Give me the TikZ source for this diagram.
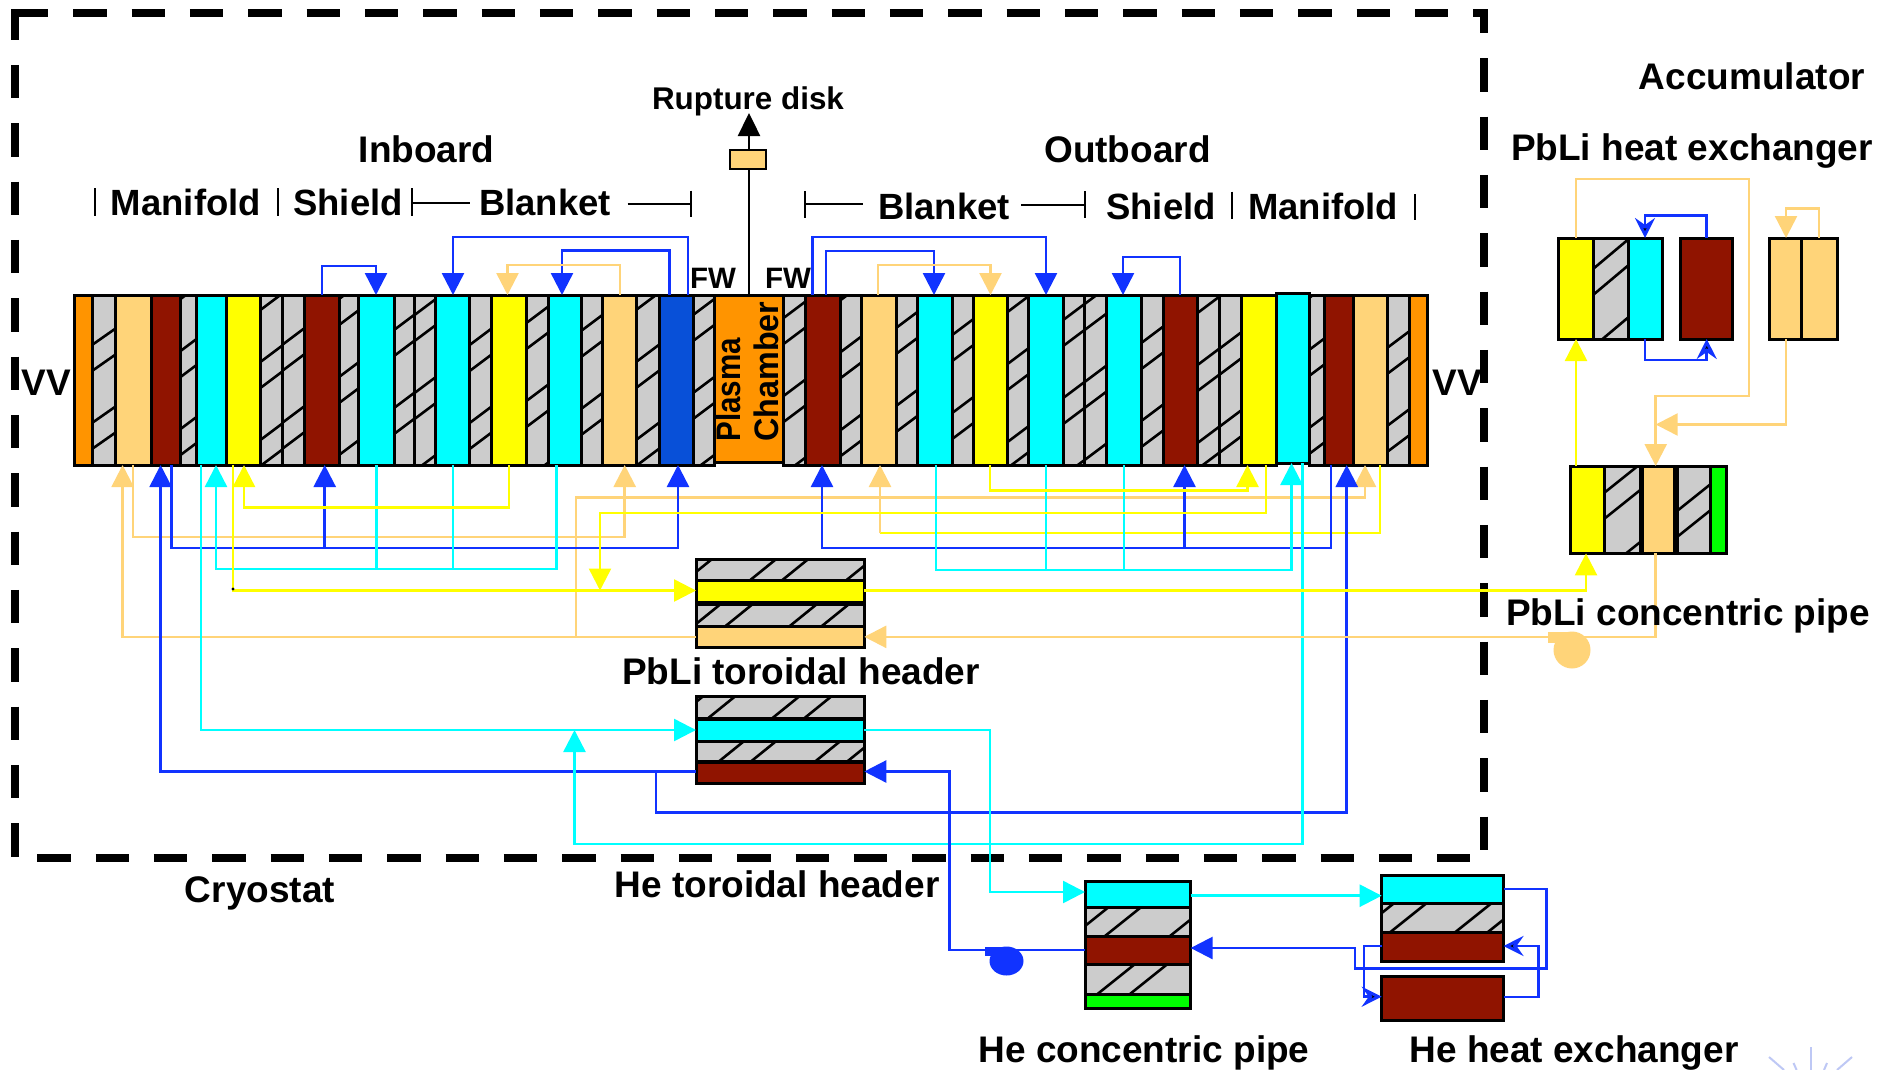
\documentclass[tikz,border=0pt]{standalone}
\usepackage{fontspec}
\setmainfont{Liberation Sans}
\usetikzlibrary{arrows.meta,shapes.geometric}
\definecolor{cBlue}{RGB}{17,51,255}
\definecolor{cPeach}{RGB}{255,212,121}
\definecolor{cRed}{RGB}{144,20,0}
\definecolor{cGrey}{RGB}{204,204,204}
\definecolor{cOrange}{RGB}{255,148,0}
\definecolor{cDeep}{RGB}{8,80,216}
\definecolor{cFaint}{RGB}{190,200,245}
\definecolor{cCyan}{RGB}{0,255,255}
\definecolor{cYellow}{RGB}{255,255,0}
\definecolor{cGreen}{RGB}{0,255,0}
\tikzset{
  blkbase/.style={draw=black,line width=3pt,inner sep=0pt,outer sep=0pt,rectangle},
  or/.style={fill=cOrange}, pk/.style={fill=cPeach}, rd/.style={fill=cRed},
  cy/.style={fill=cCyan}, ye/.style={fill=cYellow}, gr/.style={fill=cGrey},
  bu/.style={fill=cDeep}, gn/.style={fill=cGreen},
  hl/.style={draw=black,line width=2.6pt},
  bluel/.style={draw=cBlue,line width=2.5pt},
  cyanl/.style={draw=cCyan,line width=2.5pt},
  yell/.style={draw=cYellow,line width=2.5pt},
  peachl/.style={draw=cPeach,line width=2.5pt},
  tri/.tip={Triangle[length=22pt,width=22pt]},
  dbl/.tip={Stealth[length=20pt,width=20pt,inset=7pt,fill=black,line width=3pt]},
  big/.style={font=\fontsize{37}{40}\selectfont\bfseries,inner sep=0pt,anchor=base},
  mid/.style={font=\fontsize{36.5}{40}\selectfont\bfseries,inner sep=0pt,anchor=base},
  small/.style={font=\fontsize{31.4}{34}\selectfont\bfseries,inner sep=0pt,anchor=base},
  fwt/.style={font=\fontsize{29.5}{32}\selectfont\bfseries,inner sep=0pt,anchor=base},
  tick/.style={draw=black,line width=2pt},
  frameline/.style={draw=black,line width=8pt,dash pattern=on 33.33pt off 25pt},
}
\newcommand\colblk[6]{%
  \pgfmathsetmacro\bw{#4-#3}\pgfmathsetmacro\bh{#6-#5}%
  \node[blkbase,#2,minimum width=\bw pt,minimum height=\bh pt] (#1) at ({(#3+#4)/2},{(#5+#6)/2}) {};}
\newcommand\hatched[7]{%
  \colblk{#1}{gr}{#2}{#3}{#4}{#5}%
  \begin{scope}
    \clip (#2,#4) rectangle (#3,#5);
    \pgfmathtruncatemacro\kmin{floor((#4-#6)/78)-1}%
    \pgfmathtruncatemacro\kmax{ceil((#5+#7*(#3-#2)-#6)/78)+1}%
    \foreach \kk in {\kmin,...,\kmax}{%
      \draw[hl] (#2,{#6+78*\kk}) -- (#3,{#6+78*\kk-#7*(#3-#2)});
      \draw[hl] (#2,{#6+26+78*\kk}) -- (#3,{#6+26+78*\kk-#7*(#3-#2)});
    }
  \end{scope}
  \draw[draw=black,line width=3pt] (#2,#4) rectangle (#3,#5);}
\begin{document}
\begin{tikzpicture}[x=1pt,y=-1pt]
\useasboundingbox (0,0) rectangle (1894,1070);
\fill[white] (0,0) rectangle (1894,1070);
% cryostat
\draw[frameline] (15,13.3) -- (1488.3,13.3);
\draw[frameline,dash phase=2.67pt] (15,9.3) -- (15,857);
\draw[frameline,dash phase=9.3pt] (1484.4,9.3) -- (1484.4,852);
\draw[frameline] (37.3,857.5) -- (1470,857.5);
% inboard
\def\ya{295}\def\yb{465}
\colblk{vvL}{or}{74}{92}{\ya}{\yb}
\hatched{sA}{92}{115}{\ya}{\yb}{33}{.7}
\colblk{pkA}{pk}{115}{151}{\ya}{\yb}
\colblk{rdA}{rd}{151}{180.5}{\ya}{\yb}
\hatched{sB}{180.5}{196}{\ya}{\yb}{39}{.75}
\colblk{cyA}{cy}{196}{226}{\ya}{\yb}
\colblk{yeA}{ye}{226}{260.4}{\ya}{\yb}
\hatched{sC}{260.4}{282}{\ya}{\yb}{50}{.75}
\hatched{sD}{282}{304}{\ya}{\yb}{33}{.75}
\colblk{rdB}{rd}{304}{339}{\ya}{\yb}
\hatched{sE}{339}{358.5}{\ya}{\yb}{65}{.75}
\colblk{cyB}{cy}{358.5}{394}{\ya}{\yb}
\hatched{sF}{394}{414.5}{\ya}{\yb}{18}{.75}
\hatched{sG}{414.5}{435.5}{\ya}{\yb}{3}{.75}
\colblk{cyC}{cy}{435.5}{469.6}{\ya}{\yb}
\hatched{sH}{469.6}{491}{\ya}{\yb}{33}{.75}
\colblk{yeB}{ye}{491}{526.4}{\ya}{\yb}
\hatched{sI}{526.4}{548}{\ya}{\yb}{11}{.75}
\colblk{cyD}{cy}{548}{581}{\ya}{\yb}
\hatched{sJ}{581}{602}{\ya}{\yb}{19}{.75}
\colblk{pkB}{pk}{602}{636}{\ya}{\yb}
\hatched{sK}{636}{659}{\ya}{\yb}{50}{.75}
\colblk{buA}{bu}{659}{693}{\ya}{\yb}
\hatched{sL}{693}{714.7}{\ya}{\yb}{3}{.75}
\colblk{plasma}{or}{714.7}{783.5}{295}{462}
\hatched{sM}{783.5}{805.4}{\ya}{\yb}{6}{.75}
% outboard
\colblk{rdC}{rd}{805.4}{840.7}{\ya}{\yb}
\hatched{sN}{840.7}{861.6}{\ya}{\yb}{40}{.75}
\colblk{pkC}{pk}{861.6}{896}{\ya}{\yb}
\hatched{sO}{896}{917.3}{\ya}{\yb}{16}{.75}
\colblk{cyE}{cy}{917.3}{952.2}{\ya}{\yb}
\hatched{sP}{952.2}{973}{\ya}{\yb}{23}{.75}
\colblk{yeC}{ye}{973}{1007.5}{\ya}{\yb}
\hatched{sQ}{1007.5}{1028.3}{\ya}{\yb}{52}{.75}
\colblk{cyF}{cy}{1028.3}{1063.2}{\ya}{\yb}
\hatched{sR}{1063.2}{1084.6}{\ya}{\yb}{8}{.75}
\hatched{sS}{1084.6}{1106.9}{\ya}{\yb}{70}{.75}
\colblk{cyG}{cy}{1106.9}{1141.3}{\ya}{\yb}
\hatched{sT}{1141.3}{1163}{\ya}{\yb}{31}{.75}
\colblk{rdD}{rd}{1163}{1197.5}{\ya}{\yb}
\hatched{sU}{1197.5}{1219}{\ya}{\yb}{53}{.75}
\hatched{sV}{1219}{1241.6}{\ya}{\yb}{37}{.75}
\colblk{yeD}{ye}{1241.6}{1276}{\ya}{\yb}
\colblk{cyH}{cy}{1276}{1309}{293}{463}
\hatched{sW}{1309}{1324.5}{\ya}{\yb}{38}{.75}
\colblk{rdE}{rd}{1324.5}{1353.6}{\ya}{\yb}
\colblk{pkD}{pk}{1353.6}{1387}{\ya}{\yb}
\hatched{sX}{1387}{1409}{\ya}{\yb}{36}{.75}
\colblk{vvR}{or}{1409}{1427}{\ya}{\yb}
% toroidal headers
\hatched{hA}{696}{864.3}{559}{580.7}{0}{.81}
\colblk{hYe}{ye}{696}{864.3}{580.7}{602.7}
\hatched{hB}{696}{864.3}{604}{626}{0}{.81}
\colblk{hPk}{pk}{696}{864.3}{626}{647.7}
\hatched{hC}{696}{864.3}{696}{718}{0}{.81}
\colblk{hCy}{cy}{696}{864.3}{719}{741}
\hatched{hD}{696}{864.3}{741}{761.7}{0}{.81}
\colblk{hRd}{rd}{696}{864.3}{762.7}{783.3}
% He concentric pipe
\colblk{pCy}{cy}{1085}{1190.6}{881}{907}
\hatched{pA}{1085}{1190.6}{907}{936}{68}{.8}
\colblk{pRd}{rd}{1085}{1190.6}{936}{964}
\hatched{pB}{1085}{1190.6}{964}{994}{68}{.8}
\colblk{pGn}{gn}{1085}{1190.6}{994}{1008.7}
% He heat exchanger
\colblk{xCy}{cy}{1381.7}{1503.5}{875}{903}
\hatched{xA}{1381.7}{1503.5}{903}{932}{55}{.8}
\colblk{xRd}{rd}{1381.7}{1503.5}{932}{961}
\colblk{xRe}{rd}{1381.7}{1503.5}{976}{1020}
% PbLi heat exchanger
\colblk{qYe}{ye}{1558}{1593}{238}{339}
\hatched{qA}{1593}{1628}{238}{339}{35}{.84}
\colblk{qCy}{cy}{1628}{1662}{238}{339}
\colblk{qRd}{rd}{1680.7}{1732.7}{238}{339}
\colblk{qPa}{pk}{1769}{1801.7}{238}{339}
\colblk{qPb}{pk}{1801.7}{1837}{238}{339}
% PbLi concentric pipe
\colblk{rYe}{ye}{1570}{1604}{466}{553.4}
\hatched{rA}{1604}{1640}{466}{553.4}{25}{.8}
\colblk{rPk}{pk}{1642}{1674}{466}{553.4}
\hatched{rB}{1677}{1710}{466}{553.4}{43}{.8}
\colblk{rGn}{gn}{1710}{1726.7}{466}{553.4}
% rupture disk
\coordinate (ruptop) at (749,113);
\draw[line width=2.4pt,-{Triangle[length=23pt,width=22pt]}] (749,0|-plasma.north) -- (ruptop);
\node[blkbase,line width=2pt,pk,minimum width=36pt,minimum height=19pt] (disk) at (748,159.5) {};
% --- top connectors
\draw[bluel,-{tri}] (322,0|-rdB.north) -- (322,266) -- (376,266) -- (376,0|-cyB.north);
\draw[bluel,-{tri}] (688,0|-buA.north) -- (688,237) -- (453,237) -- (453,0|-cyC.north);
\draw[bluel,-{tri}] (669.5,0|-buA.north) -- (669.5,250.7) -- (562,250.7) -- (562,0|-cyD.north);
\draw[peachl,-{tri}] (620,0|-pkB.north) -- (620,265) -- (507.5,265) -- (507.5,0|-yeB.north);
\draw[bluel,-{tri}] (812.6,0|-rdC.north) -- (812.6,237) -- (1046,237) -- (1046,0|-cyF.north);
\draw[bluel,-{tri}] (826,0|-rdC.north) -- (826,251) -- (934,251) -- (934,0|-cyE.north);
\draw[peachl,-{tri}] (878,0|-pkC.north) -- (878,265) -- (990.5,265) -- (990.5,0|-yeC.north);
\draw[bluel,-{tri}] (1180,0|-rdD.north) -- (1180,257) -- (1123,257) -- (1123,0|-cyG.north);
% --- peach lower
\draw[peachl,-{tri}] (hPk.west) -- (122.6,0|-hPk.west) -- (122.6,0|-pkA.south);
\draw[peachl,-{tri}] (576,0|-hPk.west) -- (576,497.5) -- (1365,497.5) -- (1365,0|-pkD.south);
\draw[peachl,-{tri}] (133,0|-pkA.south) -- (133,537) -- (624.7,537) -- (624.7,0|-pkB.south);
\draw[yell] (1380,0|-pkD.south) -- (1380,533) -- (880,533);
\draw[peachl,-{tri}] (880,533) -- (880,0|-pkC.south);
% --- blue lower
\draw[bluel,-{tri}] (hRd.west |- 0,771.5) -- (160.6,771.5) -- (160.6,0|-rdA.south);
\draw[bluel,-{tri}] (656,771.5) -- (656,812.7) -- (1346.7,812.7) -- (1346.7,0|-rdE.south);
\draw[bluel,-{tri}] (171.6,0|-rdA.south) -- (171.6,548) -- (678,548) -- (678,0|-buA.south);
\draw[bluel,-{tri}] (324.7,548) -- (324.7,0|-rdB.south);
\draw[bluel,-{tri}] (1331,0|-rdE.south) -- (1331,548) -- (822,548) -- (822,0|-rdC.south);
\draw[bluel,-{tri}] (1184.5,548) -- (1184.5,0|-rdD.south);
% --- cyan lower
\draw[cyanl,-{tri}] (201,0|-cyA.south) -- (201,0|-hCy.west) -- (hCy.west);
\draw[cyanl,-{tri}] (556.5,0|-cyD.south) -- (556.5,569) -- (216,569) -- (216,0|-cyA.south);
\draw[cyanl] (376.5,0|-cyB.south) -- (376.5,569);
\draw[cyanl] (453,0|-cyC.south) -- (453,569);
\draw[cyanl,-{tri}] (935.8,0|-cyE.south) -- (935.8,570) -- (1291.5,570) -- (1291.5,0|-cyH.south);
\draw[cyanl] (1046,0|-cyF.south) -- (1046,570);
\draw[cyanl] (1124,0|-cyG.south) -- (1124,570);
\draw[cyanl,-{tri}] (1302.7,0|-cyH.south) -- (1302.7,844) -- (574.5,844) -- (574.5,0|-hCy.west);
\draw[cyanl,-{tri}] (hCy.east) -- (990,0|-hCy.east) -- (990,892) -- (pCy.west |- 0,892);
\draw[cyanl,-{tri}] (pCy.east |- 0,895.7) -- (xCy.west |- 0,895.7);
% --- yellow lower
\draw[yell,-{tri}] (233,0|-yeA.south) -- (233,590.5) -- (hYe.west |- 0,590.5);
\fill[black] (233,589) circle (1.6pt);
\draw[yell,-{tri}] (509,0|-yeB.south) -- (509,507.7) -- (244,507.7) -- (244,0|-yeA.south);
\draw[yell,-{tri}] (1266,0|-yeD.south) -- (1266,513) -- (600,513) -- (600,590.5);
\draw[yell,-{tri}] (990,0|-yeC.south) -- (990,490.7) -- (1247.5,490.7) -- (1247.5,0|-yeD.south);
\draw[yell,-{tri}] (hYe.east |- 0,590.5) -- (1586,590.5) -- (1586,0|-rYe.south);
% --- PbLi exchanger loop
\draw[yell,-{tri}] (1576,0|-rYe.north) -- (1576,0|-qYe.south);
\draw[peachl,-{tri}] (1576,0|-qYe.north) -- (1576,179) -- (1749,179) -- (1749,396) -- (1655.7,396) -- (1655.7,0|-rPk.north);
\draw[bluel,-{dbl}] (1706.7,0|-qRd.north) -- (1706.7,215.5) -- (1645,215.5) -- (1645,0|-qCy.north);
\draw[bluel,-{dbl}] (1645,0|-qCy.south) -- (1645,360) -- (1706.7,360) -- (1706.7,0|-qRd.south);
\draw[peachl,-{tri}] (1819,0|-qPb.north) -- (1819,208.6) -- (1786,208.6) -- (1786,0|-qPa.north);
\draw[peachl,-{tri}] (1786,0|-qPa.south) -- (1786,424.5) -- (1655.7,424.5);
\draw[peachl,-{tri}] (1655.7,0|-rPk.south) -- (1655.7,0|-hPk.east) -- (hPk.east);
% PbLi pump
\node[circle,fill=cPeach,inner sep=0pt,minimum size=37pt] (pumpP) at (1572,650) {};
\node[rectangle,fill=cPeach,inner sep=0pt,minimum width=20pt,minimum height=11pt] (nubP) at (1558,637.5) {};
% --- He loop
\draw[bluel,-{tri}] (pRd.west) -- (949.7,0|-pRd.west) -- (949.7,771.5) -- (hRd.east |- 0,771.5);
\node[ellipse,fill=cBlue,inner sep=0pt,minimum width=34pt,minimum height=29pt] (pumpH) at (1006.5,961) {};
\node[rectangle,fill=cBlue,inner sep=0pt,minimum width=19pt,minimum height=9.5pt] (nubH) at (994.5,951.5) {};
\draw[bluel,-{tri}] (xCy.east |- 0,889) -- (1546.5,889) -- (1546.5,968.7) -- (1355,968.7) -- (1355,948) -- (pRd.east |- 0,948);
\draw[bluel,-{dbl}] (xRd.west |- 0,946) -- (1364,946) -- (1364,996.7) -- (xRe.west |- 0,996.7);
\draw[bluel,-{dbl}] (xRe.east |- 0,997) -- (1538.5,997) -- (1538.5,946) -- (xRd.east |- 0,946);
% ticks
\draw[tick] (95,188) -- (95,216);
\draw[tick] (278,188) -- (278,216);
\draw[tick] (411.6,188) -- (411.6,216);
\draw[tick] (411.6,203) -- (470,203);
\draw[tick] (627.7,203.5) -- (691,203.5);
\draw[tick] (691,190.7) -- (691,216.7);
\draw[tick] (805.4,191) -- (805.4,217.7);
\draw[tick] (805.4,204) -- (862.6,204);
\draw[tick] (1021,204.7) -- (1085,204.7);
\draw[tick] (1085,191) -- (1085,218);
\draw[tick] (1231.8,191.7) -- (1231.8,219);
\draw[tick] (1415,194) -- (1415,220);
% faint marks bottom right
\draw[cFaint,line width=2pt] (1769,1057) -- (1784,1070);
\draw[cFaint,line width=2pt] (1811,1047) -- (1811,1070);
\draw[cFaint,line width=2pt] (1852,1057) -- (1837,1070);
\draw[cFaint,line width=2pt] (1793.5,1063) -- (1796.6,1070);
\draw[cFaint,line width=2pt] (1827,1063) -- (1824,1070);
% labels
\node[big] (tInb) at (426.7,162) {Inboard};
\node[big] (tOut) at (1127.5,162) {Outboard};
\node[mid] (tM1) at (186,215.5) {Manifold};
\node[mid] (tS1) at (348,215.5) {Shield};
\node[mid] (tB1) at (545,215.5) {Blanket};
\node[mid] (tB2) at (944,219) {Blanket};
\node[mid] (tS2) at (1161,219) {Shield};
\node[mid] (tM2) at (1323,219) {Manifold};
\node[small] (tRup) at (748,110) {Rupture disk};
\node[big] (tVVa) at (46,395) {VV};
\node[big] (tVVb) at (1457,395) {VV};
\node[fwt] (tFa) at (713,288) {FW};
\node[fwt] (tFb) at (788,288) {FW};
\node[font=\fontsize{34}{36}\selectfont\bfseries,inner sep=0pt,rotate=90,anchor=base west] (tPl) at (740,441.7) {\scalebox{.87}[1]{Plasma}};
\node[font=\fontsize{34}{36}\selectfont\bfseries,inner sep=0pt,rotate=90,anchor=base west] (tCh) at (778.7,441.7) {\scalebox{.95}[1]{Chamber}};
\node[big] (tAcc) at (1752,90) {Accumulator};
\node[big] (tPHX) at (1692,160) {PbLi heat exchanger};
\node[big] (tPCP) at (1688,625) {PbLi concentric pipe};
\node[big] (tPTH) at (801,684) {PbLi toroidal header};
\node[big] (tHTH) at (777,897.5) {He toroidal header};
\node[big] (tCry) at (260,902.5) {Cryostat};
\node[big] (tHCP) at (1144,1062) {He concentric pipe};
\node[big] (tHHX) at (1574,1062) {He heat exchanger};
\end{tikzpicture}
\end{document}
